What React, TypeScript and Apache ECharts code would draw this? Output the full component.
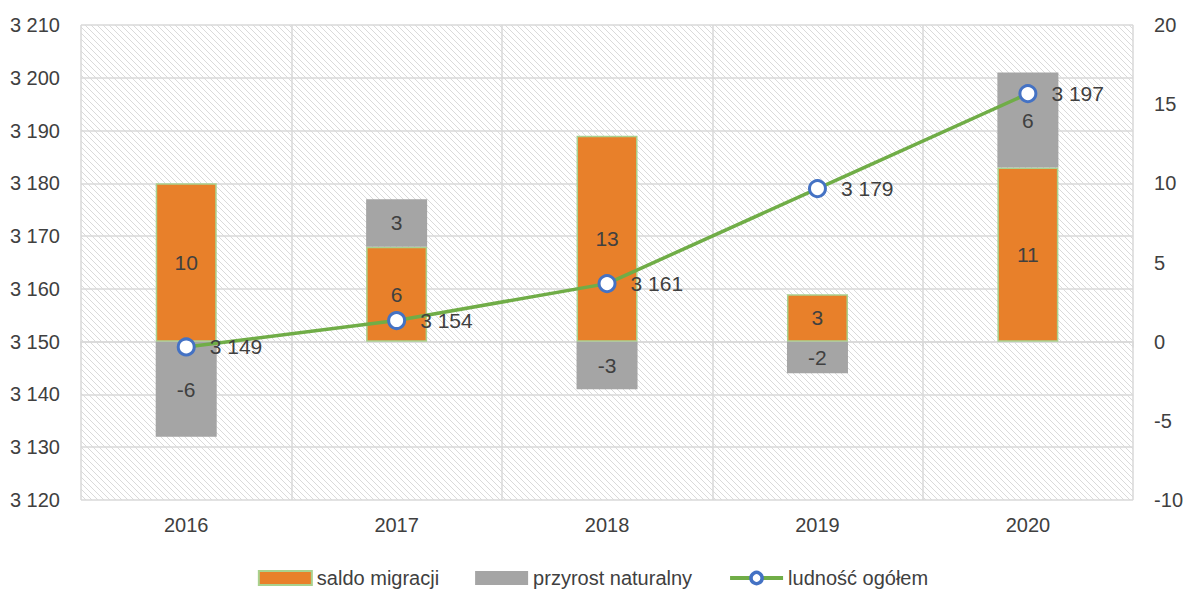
import React, { useEffect, useRef } from "react";
import * as echarts from "echarts";

const categories = ["2016", "2017", "2018", "2019", "2020"];
const saldoMigracji = [10, 6, 13, 3, 11];
const przyrostNaturalny = [-6, 3, -3, -2, 6];
const ludnoscOgolem = [3149, 3154, 3161, 3179, 3197];

const FONT = "'Liberation Sans Narrow', 'Liberation Sans', Arial, sans-serif";
const TEXT = "#404040";

const fmt = (v: number) => {
  const s = String(Math.abs(v));
  const out = s.replace(/\B(?=(\d{3})+(?!\d))/g, " ");
  return (v < 0 ? "-" : "") + out;
};

const hatchSvg =
  "data:image/svg+xml;charset=utf-8," +
  encodeURIComponent(
    '<svg xmlns="http://www.w3.org/2000/svg" width="6" height="6"><path d="M0,0 L6,6 M-1,5 L1,7 M5,-1 L7,1" stroke="#dadada" stroke-width="1"/></svg>'
  );

export default function App() {
  const ref = useRef<HTMLDivElement>(null);
  useEffect(() => {
    if (!ref.current) return;
    const chart = echarts.init(ref.current, undefined, { renderer: "svg" });
    chart.setOption({
      animation: false,
      backgroundColor: "#ffffff",
      textStyle: { fontFamily: FONT },
      grid: {
        left: 81,
        right: 51,
        top: 25,
        bottom: 94,
        show: true,
        borderWidth: 0,
        backgroundColor: {
          image: hatchSvg,
          repeat: "repeat",
          imageWidth: 6,
          imageHeight: 6,
        } as any,
      },
      legend: {
        bottom: 1,
        left: "center",
        itemGap: 36,
        itemWidth: 53,
        itemHeight: 14,
        textStyle: { fontFamily: FONT, fontSize: 20, color: TEXT },
        data: [
          { name: "saldo migracji", icon: "rect" },
          { name: "przyrost naturalny", icon: "rect" },
          {
            name: "ludność ogółem",
            lineStyle: { color: "#70AD47", width: 4 },
            itemStyle: { color: "#ffffff", borderColor: "#4472C4", borderWidth: 3.5 },
          },
        ],
      },
      xAxis: {
        type: "category",
        data: categories,
        boundaryGap: true,
        axisLine: { show: true, lineStyle: { color: "#d9d9d9", width: 1.5 } },
        axisTick: { show: true, length: 6, lineStyle: { color: "#d9d9d9", width: 1.5 } },
        splitLine: { show: true, lineStyle: { color: "#d9d9d9", width: 1.5 } },
        axisLabel: { fontFamily: FONT, fontSize: 20, color: TEXT, margin: 15 },
      },
      yAxis: [
        {
          type: "value",
          min: 3120,
          max: 3210,
          interval: 10,
          axisLine: { show: false },
          axisTick: { show: false },
          splitLine: { show: true, lineStyle: { color: "#d9d9d9", width: 1.5 } },
          axisLabel: {
            fontFamily: FONT,
            fontSize: 20,
            color: TEXT,
            margin: 21,
            formatter: (v: number) => fmt(v),
          },
        },
        {
          type: "value",
          min: -10,
          max: 20,
          interval: 5,
          axisLine: { show: false },
          axisTick: { show: false },
          splitLine: { show: false },
          axisLabel: {
            fontFamily: FONT,
            fontSize: 20,
            color: TEXT,
            margin: 21,
            formatter: (v: number) => fmt(v),
          },
        },
      ],
      series: [
        {
          name: "saldo migracji",
          type: "bar",
          yAxisIndex: 1,
          stack: "a",
          barWidth: 61,
          data: saldoMigracji,
          itemStyle: { color: "#E8802A", borderColor: "#A9D18E", borderWidth: 1.5 },
          label: {
            show: true,
            position: "inside",
            fontFamily: FONT,
            fontSize: 21,
            color: TEXT,
          },
        },
        {
          name: "przyrost naturalny",
          type: "bar",
          yAxisIndex: 1,
          stack: "a",
          barWidth: 61,
          data: przyrostNaturalny,
          itemStyle: { color: "#A5A5A5" },
          label: {
            show: true,
            position: "inside",
            fontFamily: FONT,
            fontSize: 21,
            color: TEXT,
          },
        },
        {
          name: "ludność ogółem",
          type: "line",
          yAxisIndex: 0,
          data: ludnoscOgolem,
          symbol: "circle",
          symbolSize: 16,
          z: 5,
          lineStyle: { color: "#70AD47", width: 3.5 },
          itemStyle: { color: "#ffffff", borderColor: "#4472C4", borderWidth: 3 },
          label: {
            show: true,
            position: "right",
            distance: 14,
            fontFamily: FONT,
            fontSize: 21,
            color: TEXT,
            formatter: (p: any) => fmt(p.value),
          },
        },
      ],
    });
    return () => chart.dispose();
  }, []);
  return (
    <div
      ref={ref}
      style={{ position: "absolute", left: 0, top: 0, width: 1186, height: 594 }}
    />
  );
}
